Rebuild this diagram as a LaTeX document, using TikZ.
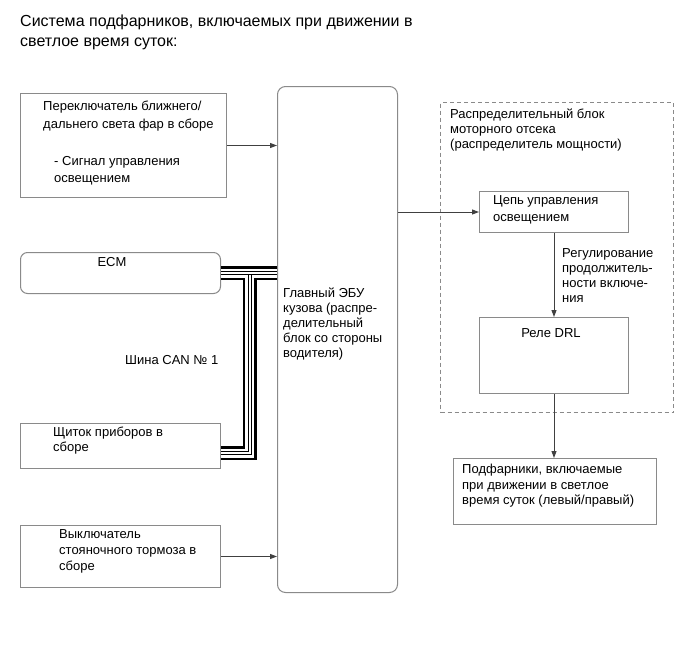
\documentclass[tikz,border=0pt]{standalone}
\usepackage{fontspec}
\setmainfont{Liberation Sans}
\usetikzlibrary{arrows.meta}
\definecolor{boxgray}{HTML}{8A8A8A}
\definecolor{linegray}{HTML}{404040}
\tikzset{
  box/.style={draw=boxgray, line width=1pt, inner sep=0pt, anchor=north west},
  txt/.style={inner sep=0pt, anchor=north west, align=left, font=\fontsize{13}{15}\selectfont},
  conn/.style={draw=linegray, line width=1pt, -{Triangle[length=7pt,width=5pt]}},
  busouter/.style={line width=14pt, black},
  busgap/.style={line width=9pt, white},
  businner/.style={line width=4pt, black},
  buscore/.style={line width=2pt, white},
}
\begin{document}
\begin{tikzpicture}[x=1pt,y=-1pt]
\useasboundingbox[fill=white] (0,0) rectangle (689,659);
% title
\node[txt, font=\fontsize{16}{20}\selectfont] (title) at (20,14.5) {Система подфарников, включаемых при движении в\\светлое время суток:};
% boxes
\node[box, minimum width=206pt, minimum height=104pt] (sw) at (20,93) {};
\node[box, rounded corners=7pt, minimum width=200pt, minimum height=41pt] (ecm) at (20,252) {};
\node[box, minimum width=200pt, minimum height=45pt] (ipc) at (20,423) {};
\node[box, minimum width=200pt, minimum height=62pt] (brk) at (20,525) {};
\node[box, rounded corners=8pt, minimum width=120pt, minimum height=506pt] (ecu) at (277,86) {};
\node[box, dashed, dash pattern=on 4pt off 3pt, minimum width=233pt, minimum height=310pt] (ej) at (440,102) {};
\node[box, minimum width=149pt, minimum height=41pt] (cep) at (479,191) {};
\node[box, minimum width=149pt, minimum height=76pt] (drl) at (479,317) {};
\node[box, minimum width=203pt, minimum height=66pt] (lamps) at (453,458) {};
% texts
\node[txt, font=\fontsize{13}{18}\selectfont] (swt) at (43,100.5) {Переключатель ближнего/\\дальнего света фар в сборе};
\node[txt, font=\fontsize{13}{17}\selectfont] (sws) at (54,156) {- Сигнал управления\\освещением};
\node[txt, anchor=center] (ecmt) at (112,262) {ECM};
\node[txt, anchor=west] (can) at (125,360) {Шина CAN № 1};
\node[txt] (ipct) at (53,427) {Щиток приборов в\\сборе};
\node[txt, font=\fontsize{13}{16}\selectfont] (brkt) at (59,529) {Выключатель\\стояночного тормоза в\\сборе};
\node[txt] (ecut) at (283,288) {Главный ЭБУ\\кузова (распре-\\делительный\\блок со стороны\\водителя)};
\node[txt] (ejt) at (450,109) {Распределительный блок\\моторного отсека\\(распределитель мощности)};
\node[txt, font=\fontsize{13}{17}\selectfont] (cept) at (493,195) {Цепь управления\\освещением};
\node[txt] (reg) at (562,248) {Регулирование\\продолжитель-\\ности включе-\\ния};
\node[txt, anchor=center] (drlt) at (551,333) {Реле DRL};
\node[txt, font=\fontsize{13}{15.5}\selectfont] (lampst) at (462,464) {Подфарники, включаемые\\при движении в светлое\\время суток (левый/правый)};
% connectors
\draw[conn] (sw.east) -- (sw.east -| ecu.west);
\draw[conn] (brk.east) -- (brk.east -| ecu.west);
\draw[conn] (ecu.east |- cep.west) -- (cep.west);
\draw[conn] (cep.south) -- (drl.north);
\draw[conn] (drl.south) -- (drl.south |- lamps.north);
% CAN bus
\coordinate (tap) at (249.5,272.5);
\coordinate (bend) at (249.5,453);
\begin{scope}[line join=miter]
\draw[busouter] (ecm.east) -- (ecm.east -| ecu.west);
\draw[busouter] (tap) -- (bend) -- (bend -| ipc.east);
\draw[busgap] (ecm.east) -- (ecm.east -| ecu.west);
\draw[busgap] (tap) -- (bend) -- (bend -| ipc.east);
\draw[businner] (tap) -- (bend) -- (bend -| ipc.east);
\draw[buscore] (tap) -- (bend) -- (bend -| ipc.east);
\draw[businner] (ecm.east) -- (ecm.east -| ecu.west);
\draw[buscore] (ecm.east) -- (ecm.east -| ecu.west);
\end{scope}
\end{tikzpicture}
\end{document}
